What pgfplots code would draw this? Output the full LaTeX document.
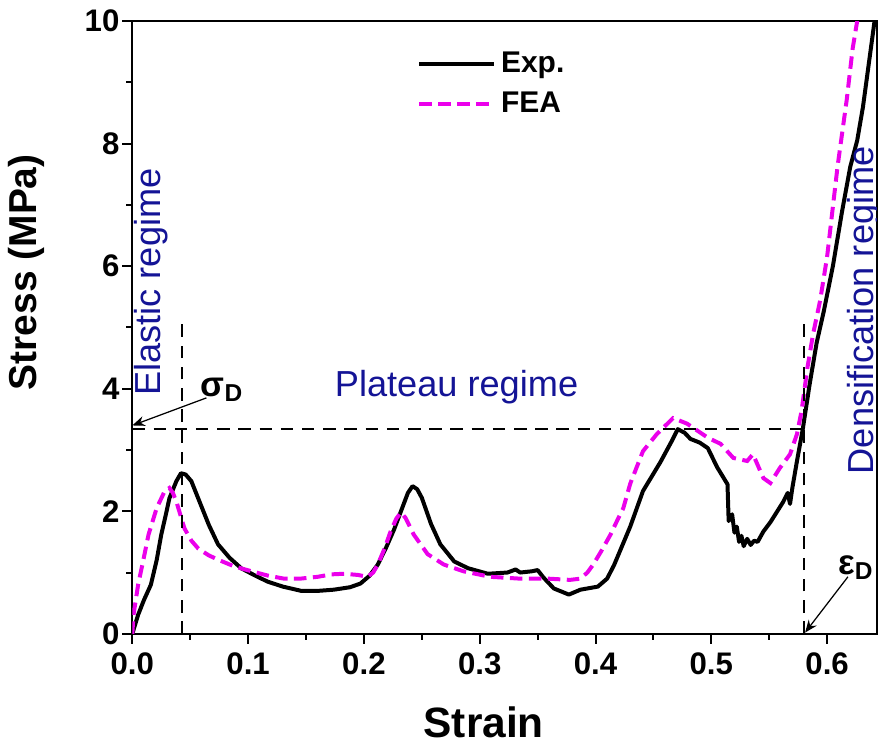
\documentclass[border={0pt 0pt 0pt 3pt}]{standalone}
\usepackage{fontspec}
\setmainfont{Liberation Sans}
\usepackage{pgfplots}
\pgfplotsset{compat=1.18}
\usetikzlibrary{arrows.meta}
\definecolor{regblue}{RGB}{20,20,150}
\definecolor{feamag}{RGB}{235,0,235}

\begin{document}
\begin{tikzpicture}
\begin{axis}[
    scale only axis,
    width=298.4pt, height=245.6pt,
    xmin=0, xmax=0.643, ymin=0, ymax=10,
    xtick={0,0.1,...,0.6}, ytick={0,2,...,10},
    minor x tick num=1, minor y tick num=1,
    xtick pos=left, ytick pos=left,
    tick align=outside,
    major tick length=4pt, minor tick length=2.4pt,
    every tick/.style={black, line width=0.8pt},
    axis line style={line width=0.9pt},
    /pgf/number format/assume math mode=true,
    xticklabel style={font=\bfseries\fontsize{12.5}{14}\selectfont, /pgf/number format/fixed, /pgf/number format/fixed zerofill, /pgf/number format/precision=1},
    yticklabel style={font=\bfseries\fontsize{12.5}{14}\selectfont, inner sep=1pt},
    scaled x ticks=false,
    xlabel={Strain}, ylabel={Stress (MPa)},
    xlabel style={font=\bfseries\fontsize{17}{20}\selectfont, at={(rel axis cs:0.472,-0.104)}, anchor=north},
    ylabel style={font=\bfseries\fontsize{15.6}{18}\selectfont, at={(rel axis cs:-0.106,0.59)}, anchor=south},
    legend style={draw=none, fill=none, at={(rel axis cs:0.372,0.967)}, anchor=north west,
        font=\bfseries\fontsize{12}{14}\selectfont, row sep=2.5pt},
    legend cell align=left,
    legend image code/.code={\draw[#1] (0pt,0pt) -- (30pt,0pt);},
]
% experiment
\addplot[black, line width=1.6pt, line join=round] coordinates {
(0,0)(0.005,0.31)(0.010,0.55)(0.016,0.8)(0.021,1.2)(0.025,1.62)(0.029,1.95)
(0.032,2.21)(0.038,2.49)(0.042,2.62)(0.046,2.6)(0.051,2.49)(0.059,2.11)
(0.066,1.78)(0.074,1.46)(0.084,1.24)(0.094,1.07)(0.105,0.96)(0.117,0.85)
(0.130,0.77)(0.146,0.70)(0.160,0.70)(0.174,0.72)(0.188,0.76)(0.197,0.82)
(0.205,0.95)(0.212,1.13)(0.219,1.40)(0.226,1.70)(0.233,2.05)(0.238,2.30)
(0.242,2.41)(0.246,2.36)(0.250,2.22)(0.258,1.79)(0.266,1.46)(0.278,1.18)
(0.290,1.07)(0.307,0.98)(0.324,1.00)(0.331,1.05)(0.335,1.0)(0.345,1.02)
(0.350,1.04)(0.355,0.92)(0.364,0.74)(0.377,0.64)(0.387,0.72)(0.402,0.77)
(0.410,0.9)(0.416,1.12)(0.422,1.39)(0.430,1.75)(0.441,2.33)(0.456,2.80)
(0.466,3.15)(0.471,3.34)(0.477,3.28)(0.482,3.18)(0.490,3.12)(0.497,3.03)
(0.505,2.72)(0.514,2.44)(0.515,1.84)(0.518,1.95)(0.520,1.65)(0.522,1.75)
(0.524,1.50)(0.526,1.60)(0.528,1.43)(0.531,1.55)(0.534,1.45)(0.537,1.52)
(0.540,1.50)(0.545,1.67)(0.551,1.82)(0.557,2.0)(0.562,2.15)(0.566,2.30)
(0.568,2.12)(0.570,2.38)(0.574,2.82)(0.579,3.34)(0.585,4.08)(0.591,4.75)
(0.597,5.25)(0.605,6.0)(0.613,6.9)(0.620,7.62)(0.626,8.05)(0.631,8.6)
(0.636,9.3)(0.641,10.0)
};
\addlegendentry{Exp.}
% simulation
\addplot[feamag, line width=1.6pt, dash pattern=on 5pt off 2.6pt] coordinates {
(0,0)(0.001,0.31)(0.005,0.8)(0.010,1.25)(0.014,1.62)(0.021,2.05)(0.028,2.33)
(0.032,2.38)(0.035,2.30)(0.038,2.16)(0.045,1.72)(0.051,1.52)(0.057,1.39)
(0.066,1.28)(0.074,1.21)(0.088,1.10)(0.103,1.02)(0.117,0.95)(0.131,0.90)
(0.145,0.90)(0.160,0.93)(0.172,0.97)(0.183,0.98)(0.195,0.96)(0.203,0.93)
(0.208,1.00)(0.212,1.13)(0.218,1.40)(0.223,1.67)(0.228,1.88)(0.232,1.98)
(0.236,1.89)(0.243,1.62)(0.255,1.30)(0.269,1.13)(0.286,1.02)(0.309,0.93)
(0.335,0.90)(0.359,0.90)(0.378,0.88)(0.387,0.90)(0.393,1.00)(0.398,1.13)
(0.405,1.35)(0.413,1.62)(0.418,1.82)(0.424,2.05)(0.430,2.45)(0.441,2.98)
(0.453,3.26)(0.467,3.52)(0.479,3.43)(0.497,3.20)(0.508,3.10)(0.519,2.87)
(0.531,2.82)(0.536,2.93)(0.545,2.54)(0.551,2.46)(0.559,2.70)(0.568,2.93)
(0.574,3.26)(0.578,3.64)(0.583,4.34)(0.588,4.90)(0.594,5.44)(0.600,6.15)
(0.609,7.62)(0.617,8.72)(0.622,9.54)(0.626,10.0)
};
\addlegendentry{FEA}
% guide lines
\addplot[black, line width=0.8pt, dash pattern=on 5pt off 3.5pt, forget plot] coordinates {(0.043,0)(0.043,5.05)};
\addplot[black, line width=0.8pt, dash pattern=on 5pt off 3.5pt, forget plot] coordinates {(0.58,0)(0.58,5.05)};
\addplot[black, line width=0.8pt, dash pattern=on 5pt off 3.5pt, forget plot] coordinates {(0,3.34)(0.58,3.34)};

\node[rotate=90, text=regblue, font=\fontsize{14.5}{16}\selectfont] at (axis cs:0.016,5.74) {Elastic regime};
\node[text=regblue, font=\fontsize{14.5}{16}\selectfont] at (axis cs:0.280,4.03) {Plateau regime};
\node[rotate=90, text=regblue, font=\fontsize{14.5}{16}\selectfont] at (axis cs:0.632,5.28) {Densification regime};

\node[font=\bfseries\fontsize{14}{16}\selectfont] at (axis cs:0.0776,3.98) {σ\textsubscript{D}};
\node[font=\bfseries\fontsize{14}{16}\selectfont] at (axis cs:0.625,1.08) {ε\textsubscript{D}};
\draw[-{Stealth[length=5pt,width=4pt]}, line width=0.5pt] (axis cs:0.064,3.85) -- (axis cs:0.0,3.40);
\draw[-{Stealth[length=5pt,width=4pt]}, line width=0.5pt] (axis cs:0.618,0.93) -- (axis cs:0.581,0.02);
\end{axis}
\end{tikzpicture}
\end{document}
